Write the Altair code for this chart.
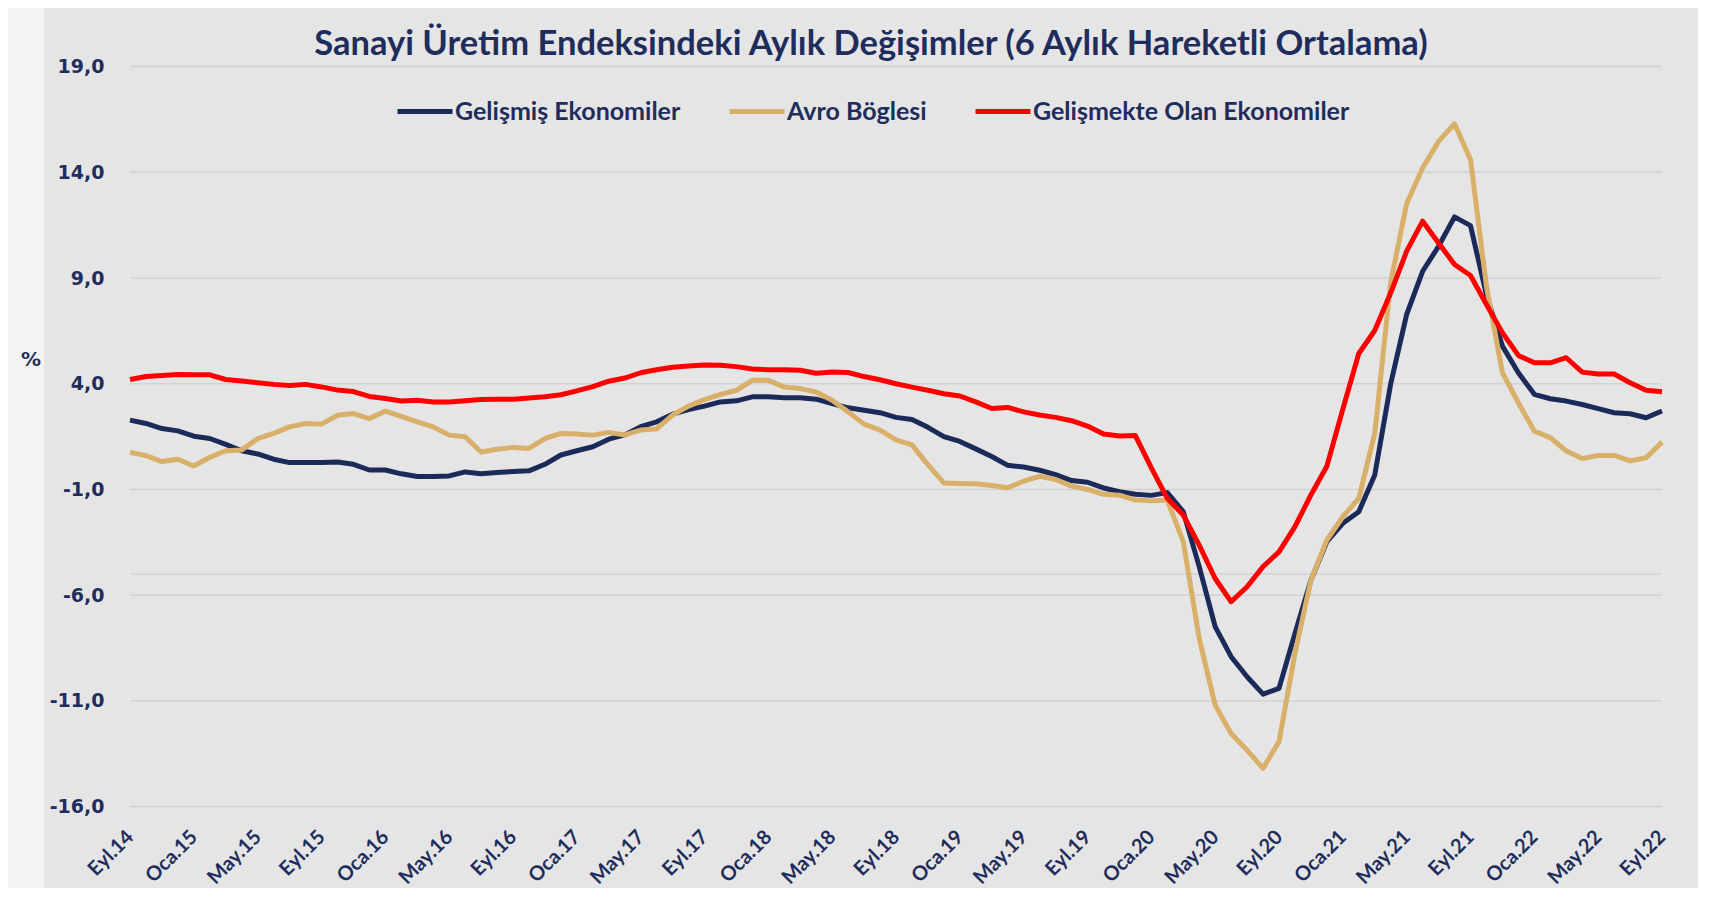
import altair as alt
import pandas as pd

# ---------------- data ----------------
MONTHS_TR = ["Oca", "Şub", "Mar", "Nis", "May", "Haz", "Tem", "Ağu", "Eyl", "Eki", "Kas", "Ara"]
months = []
for k in range(97):  # Eyl.14 .. Eyl.22
    m = (8 + k) % 12
    yy = 14 + (8 + k) // 12
    months.append(f"{MONTHS_TR[m]}.{yy:02d}")

tick_labels = ["Eyl.14", "Oca.15", "May.15", "Eyl.15", "Oca.16", "May.16", "Eyl.16",
               "Oca.17", "May.17", "Eyl.17", "Oca.18", "May.18", "Eyl.18", "Oca.19",
               "May.19", "Eyl.19", "Oca.20", "May.20", "Eyl.20", "Oca.21", "May.21",
               "Eyl.21", "Oca.22", "May.22", "Eyl.22"]

y_ticks = [-16, -11, -6, -1, 4, 9, 14, 19]
extra_grid = [-5]

names = ["Gelişmiş Ekonomiler", "Avro Böglesi", "Gelişmekte Olan Ekonomiler"]
colors = ["#1c2a5a", "#d9b06a", "#ff0000"]

gelismis = [2.28, 2.12, 1.88, 1.77, 1.52, 1.41, 1.13, 0.83, 0.68, 0.43,
            0.27, 0.27, 0.27, 0.30, 0.19, -0.08, -0.08, -0.26, -0.39, -0.39,
            -0.36, -0.17, -0.26, -0.20, -0.15, -0.12, 0.19, 0.63, 0.83, 1.02,
            1.38, 1.58, 1.97, 2.20, 2.56, 2.78, 2.94, 3.14, 3.19, 3.38,
            3.38, 3.34, 3.34, 3.27, 3.06, 2.86, 2.75, 2.63, 2.41, 2.31,
            1.94, 1.50, 1.27, 0.92, 0.56, 0.14, 0.06, -0.09, -0.30, -0.58,
            -0.66, -0.93, -1.11, -1.23, -1.28, -1.15, -2.05, -4.65, -7.49, -8.91,
            -9.86, -10.68, -10.41, -7.81, -5.29, -3.47, -2.60, -2.05, -0.32, 4.00,
            7.28, 9.32, 10.50, 11.89, 11.48, 8.20, 5.78, 4.52, 3.50, 3.29,
            3.18, 3.02, 2.82, 2.63, 2.58, 2.39, 2.71]

avro = [0.76, 0.60, 0.32, 0.43, 0.11, 0.52, 0.83, 0.87, 1.40, 1.65,
        1.96, 2.12, 2.09, 2.51, 2.59, 2.35, 2.71, 2.46, 2.20, 1.96,
        1.57, 1.49, 0.77, 0.90, 0.99, 0.94, 1.41, 1.65, 1.62, 1.57,
        1.70, 1.58, 1.81, 1.86, 2.52, 2.94, 3.25, 3.50, 3.69, 4.16,
        4.16, 3.84, 3.77, 3.61, 3.22, 2.67, 2.09, 1.81, 1.34, 1.11,
        0.17, -0.69, -0.72, -0.73, -0.81, -0.92, -0.61, -0.38, -0.53, -0.84,
        -1.00, -1.23, -1.27, -1.50, -1.54, -1.50, -3.47, -8.04, -11.20, -12.54,
        -13.33, -14.19, -12.93, -8.75, -5.29, -3.39, -2.29, -1.42, 1.65, 8.80,
        12.52, 14.20, 15.46, 16.30, 14.60, 8.61, 4.52, 3.10, 1.76, 1.45,
        0.82, 0.46, 0.61, 0.61, 0.35, 0.50, 1.24]

gelismekte = [4.20, 4.34, 4.39, 4.44, 4.42, 4.42, 4.20, 4.13, 4.05, 3.97,
              3.92, 3.97, 3.85, 3.70, 3.63, 3.40, 3.30, 3.18, 3.22, 3.14,
              3.14, 3.20, 3.25, 3.27, 3.27, 3.33, 3.38, 3.48, 3.66, 3.86,
              4.12, 4.27, 4.52, 4.66, 4.78, 4.84, 4.89, 4.88, 4.81, 4.70,
              4.66, 4.66, 4.64, 4.50, 4.56, 4.53, 4.34, 4.19, 4.00, 3.84,
              3.69, 3.53, 3.42, 3.14, 2.83, 2.88, 2.67, 2.52, 2.41, 2.25,
              2.00, 1.62, 1.53, 1.55, 0.02, -1.42, -2.21, -3.63, -5.21, -6.31,
              -5.60, -4.65, -3.95, -2.76, -1.26, 0.10, 2.80, 5.43, 6.52, 8.30,
              10.27, 11.69, 10.66, 9.64, 9.12, 7.75, 6.41, 5.34, 4.99, 4.99,
              5.23, 4.55, 4.46, 4.46, 4.05, 3.69, 3.62]

title_text = "Sanayi Üretim Endeksindeki Aylık Değişimler (6 Aylık Hareketli Ortalama)"
unit_text = "%"

# ---------------- build ----------------
long_df = pd.DataFrame({
    "month": months * 3,
    "value": gelismis + avro + gelismekte,
    "series": [names[0]] * 97 + [names[1]] * 97 + [names[2]] * 97,
})

W, H = 1532, 740
NAVY = "#1f2d5c"
PANEL = "#e5e5e5"
GRID = "#d2d2d2"

x_enc = alt.X(
    "month:O", sort=months,
    scale=alt.Scale(type="point", padding=0),
    axis=alt.Axis(values=tick_labels, labelAngle=-45, labelAlign="right",
                  labelBaseline="middle", labelPadding=27, labelOffset=0,
                  ticks=False, tickSize=0, domain=False, grid=False, title=None,
                  labelFont="Lato", labelFontWeight="bold",
                  labelFontSize=20, labelColor=NAVY, labelOverlap=False, zindex=1),
)

y_enc = alt.Y(
    "value:Q",
    scale=alt.Scale(domain=[-16, 19], nice=False, zero=False),
    axis=alt.Axis(values=y_ticks,
                  labelExpr="(datum.value < 0 ? '-' : '') + replace(format(abs(datum.value), '.1f'), '.', ',')",
                  grid=False, domain=False, ticks=False, tickSize=0, labelPadding=26,
                  title=None, labelFont="DejaVu Sans", labelFontWeight="bold",
                  labelFontSize=19, labelColor=NAVY, zindex=1),
)

color_enc = alt.Color(
    "series:N",
    scale=alt.Scale(domain=names, range=colors),
    legend=alt.Legend(title=None, orient="none", legendX=265, legendY=15,
                      direction="horizontal", symbolType="stroke", symbolSize=3025,
                      symbolStrokeWidth=5, columnPadding=38, labelFont="Lato",
                      labelFontWeight="bold", labelFontSize=25, labelColor=NAVY,
                      labelLimit=0, labelOffset=0, padding=0),
)

panel = alt.Chart(pd.DataFrame({"k": [0]})).mark_rect(fill=PANEL).encode(
    x=alt.value(-86), x2=alt.value(1568), y=alt.value(-58.6), y2=alt.value(821.4)
)

grid = alt.Chart(pd.DataFrame({"value": y_ticks + extra_grid})).mark_rule(
    color=GRID, strokeWidth=1.5
).encode(y=y_enc)

base = alt.Chart(long_df).mark_line(strokeWidth=5, strokeJoin="round").encode(
    x=x_enc, y=y_enc, color=color_enc
)
lines = [base.transform_filter(alt.datum.series == n) for n in names]

pct = alt.Chart(pd.DataFrame({"t": [unit_text]})).mark_text(
    font="DejaVu Sans", fontWeight="bold", fontSize=20, color=NAVY,
    align="center", baseline="middle"
).encode(x=alt.value(-99), y=alt.value(293), text="t:N")

title = alt.Chart(pd.DataFrame({"t": [title_text]})).mark_text(
    font="Lato", fontWeight="bold", fontSize=34.5, color=NAVY,
    align="center", baseline="alphabetic"
).encode(x=alt.value(741), y=alt.value(-12), text="t:N")

chart = alt.layer(panel, grid, *lines, pct, title).properties(
    width=W, height=H,
    autosize=alt.AutoSizeParams(type="none"),
    padding={"left": 122, "top": 58.6, "right": 36, "bottom": 81.4},
).configure(background="#f3f4f6").configure_view(stroke=None)

chart.save("out.html", embed_options={"renderer": "svg", "actions": False})
